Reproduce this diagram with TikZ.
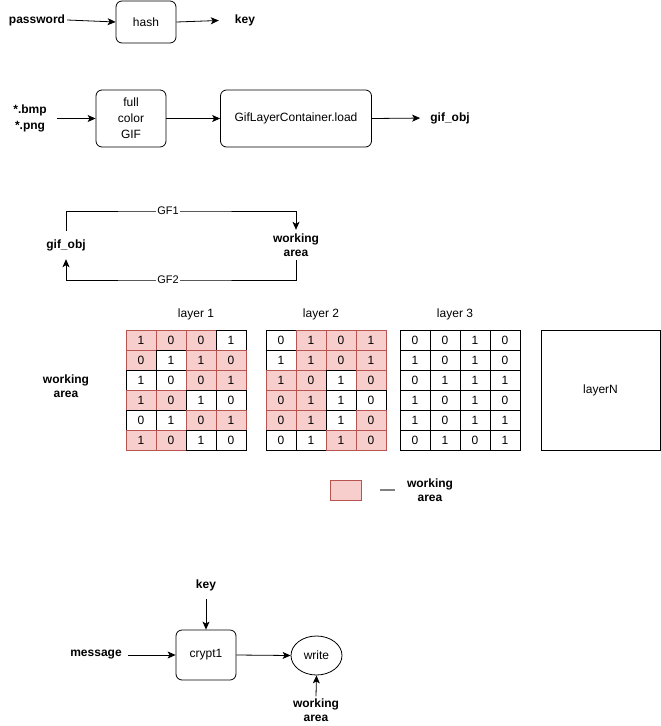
\documentclass[tikz,border=0pt]{standalone}
\usepackage{fontspec}
\setmainfont{Liberation Sans}
\usetikzlibrary{arrows.meta,shapes.geometric}
\definecolor{pinkfill}{HTML}{F8CECC}
\definecolor{pinkline}{HTML}{B85450}
\begin{document}
\begin{tikzpicture}[x=1pt,y=-1pt,
  font=\fontsize{12}{14}\selectfont,
  box/.style={draw, line width=0.8pt, rounded corners=6pt, align=center, inner sep=0pt},
  lbl/.style={font=\fontsize{12}{14}\selectfont\bfseries, align=center, inner sep=2pt},
  edgelbl/.style={font=\fontsize{11}{13}\selectfont, fill=white, inner sep=1pt},
  arr/.style={-{Stealth[length=8pt,width=7pt,inset=2pt]}, line width=0.8pt},
  ln/.style={line width=0.8pt},
  cell/.style={minimum width=30pt, minimum height=20pt, inner sep=0pt, line width=0.7pt}]
\useasboundingbox (0,0) rectangle (661,726);

% row 1
\node[lbl] (pw) at (37,20) {password};
\node[box, minimum width=60pt, minimum height=42pt] (hash) at (146,22) {hash};
\node[lbl] (key1) at (245,20) {key};
\draw[arr] (pw.east) -- (hash.west);
\draw[arr, shorten >=14pt] (hash.east) -- (key1.west);

% row 2
\node[lbl, font=\fontsize{12}{16}\selectfont\bfseries] (src) at (30,118) {*.bmp\\*.png};
\node[box, minimum width=70pt, minimum height=57pt, font=\fontsize{12}{16}\selectfont] (gif) at (131,118.5) {full\\color\\GIF};
\node[box, minimum width=151pt, minimum height=57pt] (glc) at (296,118.5) {GifLayerContainer.load};
\node[lbl] (gobj1) at (450,118) {gif\_obj};
\draw[arr, shorten <=8pt] (src.east |- gif.west) -- (gif.west);
\draw[arr] (gif.east) -- (glc.west);
\draw[arr, shorten >=8pt] (glc.east) -- (gobj1.west);

% loop
\node[lbl, inner sep=0pt, minimum height=28pt] (gobj2) at (66,245) {gif\_obj};
\node[lbl, inner sep=0pt, minimum height=30pt] (wa1) at (296,245) {working\\area};
\draw[arr] (gobj2.north) |- (168,211) node[edgelbl] {GF1} -| (wa1.north);
\draw[arr] (wa1.south) |- (168,280) node[edgelbl] {GF2} -| (gobj2.south);

% layers
\node (t1) at (196,314) {layer 1};
\node (t2) at (321,314) {layer 2};
\node (t3) at (455,314) {layer 3};
\node[lbl] (wa2) at (66,386) {working\\area};

\foreach \lx/\ln/\rows in {
  126/1/{{1/1,0/1,0/1,1/0},{0/1,1/0,1/1,0/1},{1/0,0/0,0/1,1/1},{1/1,0/1,1/0,0/0},{0/0,1/0,0/1,1/1},{1/1,0/1,1/0,0/0}},
  266/2/{{0/0,1/1,0/1,1/1},{1/0,1/1,0/1,1/1},{1/1,0/1,1/0,0/1},{0/1,1/1,1/0,0/0},{0/1,1/1,1/0,0/1},{0/0,1/0,1/1,0/1}},
  400/3/{{0/0,0/0,1/0,0/0},{1/0,0/0,1/0,0/0},{0/0,1/0,1/0,1/0},{1/0,0/0,1/0,0/0},{1/0,0/0,1/0,1/0},{0/0,1/0,0/0,1/0}}} {
  \foreach \row [count=\r] in \rows {
    \foreach \v/\s [count=\c] in \row {
      \ifnum\s=1 \def\cf{pinkfill}\def\cd{pinkline}\else\def\cf{white}\def\cd{black}\fi
      \node[cell, fill=\cf, draw=\cd] (L\ln-\r-\c) at ({\lx+15+30*(\c-1)},{340+20*(\r-1)}) {\v};
    }
  }
}
\node[draw, line width=0.8pt, minimum width=119pt, minimum height=120pt, inner sep=0pt] (layerN) at (600.5,390) {layerN};

% legend
\node[draw=pinkline, fill=pinkfill, line width=0.8pt, minimum width=31pt, minimum height=20pt, inner sep=0pt] (leg) at (345.5,490) {};
\coordinate (lga) at (380,490);
\coordinate (lgb) at (395,490);
\draw[gray, line width=1.5pt] (lga) -- (lgb);
\node[lbl] (legt) at (430,490) {working\\area};

% bottom
\node[lbl] (key2) at (206,585) {key};
\node[box, minimum width=60pt, minimum height=50pt] (crypt) at (206,655) {crypt1};
\node[lbl] (msg) at (96,655) {message};
\node[draw, ellipse, line width=0.8pt, minimum width=51pt, minimum height=39pt, inner sep=0pt] (write) at (316.5,655.5) {write};
\node[lbl] (wa3) at (316,710) {working\\area};
\draw[arr, shorten <=6pt] (key2.south) -- (crypt.north);
\draw[arr, shorten <=4pt] (msg.east) -- (crypt.west);
\draw[arr] (crypt.east) -- (write.west);
\draw[arr] (wa3.north) -- (write.south);
\end{tikzpicture}
\end{document}
